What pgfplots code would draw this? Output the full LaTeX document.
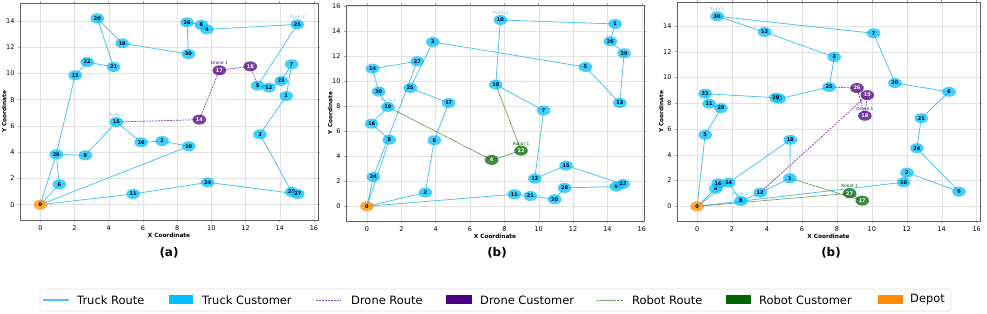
\documentclass[border=0pt]{standalone}
\usepackage{fontspec}
\setmainfont{DejaVu Sans}
\usepackage{pgfplots}
\pgfplotsset{compat=1.18}
\definecolor{troute}{RGB}{79,195,247}
\definecolor{tcust}{RGB}{0,191,255}
\definecolor{droute}{RGB}{128,70,180}
\definecolor{dcust}{RGB}{75,0,130}
\definecolor{rroute}{RGB}{100,155,80}
\definecolor{rcust}{RGB}{0,100,0}
\definecolor{depot}{RGB}{255,140,0}
\pgfdeclareplotmark{ell}{\pgfpathellipse{\pgfpointorigin}{\pgfqpoint{6.8bp}{0bp}}{\pgfqpoint{0bp}{5bp}}\pgfusepathqfill}
\pgfplotsset{
 panel/.style={scale only axis, anchor=south west, xtick={0,2,...,16},
   grid=major, grid style={gray!22, line width=0.4bp},
   axis line style={gray!75!black, line width=0.8bp},
   tick style={gray!70, line width=0.5bp}, major tick length=2bp, tick align=outside,
   ticklabel style={font=\fontsize{6.5}{7}\selectfont},
   /pgf/number format/assume math mode=true,
   xlabel={X Coordinate}, ylabel={Y Coordinate},
   label style={font=\fontsize{5.8}{6}\selectfont\bfseries},
   xlabel style={yshift=4bp}, ylabel style={yshift=-7bp},
   clip=false},
 cust/.style={only marks, mark=ell, mark options={fill=#1, fill opacity=0.75, draw=none},
   point meta=explicit symbolic, nodes near coords,
   every node near coord/.append style={anchor=center, inner sep=0pt,
     font=\fontsize{5}{5}\selectfont\bfseries, text=black, opacity=1}},
 wtext/.style={every node near coord/.append style={text=white}},
 tr/.style={troute, line width=0.8bp, no marks},
 dr/.style={droute, line width=0.7bp, no marks, dash pattern=on 2bp off 1bp},
 rr/.style={rroute, line width=0.7bp, no marks, dash pattern=on 1.2bp off 0.4bp},
}
\newcommand{\tlab}[4]{\node[font=\fontsize{4.3}{4.3}\selectfont, text=#1, inner sep=0pt] at (axis cs:#2,#3) [yshift=7bp] {#4};}
\begin{document}
\begin{tikzpicture}
\useasboundingbox (0,0) rectangle (987bp,314bp);
% ---------------- panel (a)
\begin{axis}[panel, at={(20bp,94bp)}, width=298bp, height=217bp,
  xmin=-1.19, xmax=16.24, ymin=-1.17, ymax=15.37, ytick={0,2,...,14}]
\addplot[tr] coordinates {(0,0) (1.11,1.55) (0.93,3.84) (2.63,3.76) (4.44,6.3) (5.9,4.75) (7.12,4.85) (8.68,4.45) (0,0)};
\addplot[tr] coordinates {(0,0) (0.93,3.84) (2.04,9.86) (2.74,10.87) (4.28,10.49) (3.33,14.2) (4.79,12.3) (8.66,11.48) (8.58,13.9) (9.42,13.7) (9.75,13.36) (15.03,13.74) (12.71,9.07) (13.37,8.92) (14.09,9.43) (14.7,10.7) (14.38,8.28) (12.85,5.36) (14.7,0.97) (15.06,0.81) (9.79,1.7) (5.43,0.81) (0,0)};
\addplot[dr] coordinates {(4.44,6.3) (9.3,6.48) (10.47,10.24) (12.28,10.54) (12.71,9.07)};
\addplot[cust=tcust] coordinates {(14.38,8.28)[1] (7.12,4.85)[2] (12.85,5.36)[3] (9.75,13.36)[4] (12.71,9.07)[5] (1.11,1.55)[6] (14.7,10.7)[7] (9.42,13.7)[8] (2.63,3.76)[9] (8.68,4.45)[10] (5.43,0.81)[11] (13.37,8.92)[12] (2.04,9.86)[13] (4.44,6.3)[15] (5.9,4.75)[16] (4.79,12.3)[19] (3.33,14.2)[20] (4.28,10.49)[21] (2.74,10.87)[22] (14.09,9.43)[23] (9.79,1.7)[24] (15.03,13.74)[25] (8.58,13.9)[26] (14.7,0.97)[28] (15.06,0.81)[27] (0.93,3.84)[29] (8.66,11.48)[30]};
\addplot[cust=dcust, wtext] coordinates {(9.3,6.48)[14] (10.47,10.24)[17] (12.28,10.54)[18]};
\addplot[cust=depot] coordinates {(0,0)[0]};
\tlab{troute}{4.44}{6.3}{Truck 1}
\tlab{troute}{15.03}{13.74}{Truck 2}
\tlab{dcust}{10.47}{10.24}{Drone 1}
\end{axis}
% ---------------- panel (b)
\begin{axis}[panel, at={(346bp,93bp)}, width=298bp, height=216bp,
  xmin=-1.22, xmax=16.13, ymin=-1.18, ymax=16.13, ytick={0,2,...,16}]
\addplot[tr] coordinates {(0,0) (0.37,2.35) (2.93,11.62) (0.33,11.03) (0.68,9.19) (1.22,7.96) (0.27,6.62) (1.3,5.34) (0,0)};
\addplot[tr] coordinates {(0,0) (3.4,1.1) (3.92,5.29) (4.76,8.28) (2.52,9.48) (3.84,13.17) (12.72,11.16) (14.72,8.28) (14.97,12.26) (14.17,13.22) (14.45,14.61) (7.77,14.93) (7.5,9.75) (10.29,7.67) (9.77,2.22) (11.59,3.26) (14.91,1.79) (14.52,1.58) (11.51,1.47) (10.93,0.56) (9.51,0.83) (8.58,0.96) (0,0)};
\addplot[rr] coordinates {(1.22,7.96) (7.26,3.71) (8.97,4.46) (7.5,9.75)};
\addplot[cust=tcust] coordinates {(14.45,14.61)[1] (3.4,1.1)[2] (3.84,13.17)[3] (12.72,11.16)[5] (3.92,5.29)[6] (10.29,7.67)[7] (1.3,5.34)[8] (14.52,1.58)[9] (7.77,14.93)[10] (8.58,0.96)[11] (9.77,2.22)[12] (14.72,8.28)[13] (0.33,11.03)[14] (11.59,3.26)[15] (0.27,6.62)[16] (4.76,8.28)[17] (7.5,9.75)[18] (1.22,7.96)[19] (10.93,0.56)[20] (9.51,0.83)[21] (14.91,1.79)[23] (0.37,2.35)[24] (2.52,9.48)[25] (14.17,13.22)[26] (2.93,11.62)[27] (11.51,1.47)[28] (14.97,12.26)[29] (0.68,9.19)[30]};
\addplot[cust=rcust, wtext] coordinates {(7.26,3.71)[4] (8.97,4.46)[22]};
\addplot[cust=depot] coordinates {(0,0)[0]};
\tlab{troute}{1.22}{7.96}{Truck 1}
\tlab{troute}{7.77}{14.93}{Truck 2}
\tlab{rcust}{8.97}{4.46}{Robot 1}
\end{axis}
% ---------------- panel (c)
\begin{axis}[panel, at={(677bp,93bp)}, width=303bp, height=219bp,
  xmin=-1.15, xmax=16.19, ymin=-1.14, ymax=15.86, ytick={0,2,...,14}]
\addplot[tr] coordinates {(0,0) (1.07,1.37) (1.2,1.79) (1.81,1.84) (2.5,0.41) (3.61,1.06) (5.31,2.18) (5.33,5.16) (1.81,1.84) (0,0)};
\addplot[tr] coordinates {(0,0) (0.46,5.55) (1.37,7.62) (0.69,7.96) (0.46,8.74) (4.51,8.43) (4.7,8.35) (7.56,9.26) (7.85,11.59) (3.86,13.53) (1.15,14.75) (10.1,13.43) (11.32,9.57) (14.42,8.89) (12.83,6.84) (12.58,4.51) (14.99,1.14) (12.01,2.62) (11.82,1.87) (0,0)};
\addplot[dr] coordinates {(7.56,9.26) (9.15,9.18) (9.6,7.03) (9.74,8.63) (3.61,1.06)};
\addplot[rr] coordinates {(5.31,2.18) (9.45,0.44) (8.73,1.01) (0,0)};
\addplot[cust=tcust] coordinates {(5.31,2.18)[1] (12.01,2.62)[2] (7.85,11.59)[3] (1.07,1.37)[4] (0.46,5.55)[5] (14.42,8.89)[6] (10.1,13.43)[7] (2.5,0.41)[8] (14.99,1.14)[9] (11.82,1.87)[10] (0.69,7.96)[11] (3.61,1.06)[12] (3.86,13.53)[13] (1.81,1.84)[14] (1.2,1.79)[16] (5.33,5.16)[18] (11.32,9.57)[20] (12.83,6.84)[21] (4.7,8.35)[22] (0.46,8.74)[23] (12.58,4.51)[24] (7.56,9.26)[25] (1.37,7.62)[28] (4.51,8.43)[29] (1.15,14.75)[30]};
\addplot[cust=dcust, wtext] coordinates {(9.15,9.18)[26] (9.74,8.63)[15] (9.6,7.03)[19]};
\addplot[cust=rcust, wtext] coordinates {(8.73,1.01)[27] (9.45,0.44)[17]};
\addplot[cust=depot] coordinates {(0,0)[0]};
\tlab{troute}{2.45}{0.41}{Truck 1}
\tlab{troute}{1.15}{14.75}{Truck 2}
\tlab{dcust}{9.6}{7.03}{Drone 1}
\tlab{rcust}{8.73}{1.01}{Robot 1}
\end{axis}
% ---------------- captions
\node[font=\fontsize{12}{12}\selectfont\bfseries] at (169bp,61bp) {(a)};
\node[font=\fontsize{12}{12}\selectfont\bfseries] at (497bp,61bp) {(b)};
\node[font=\fontsize{12}{12}\selectfont\bfseries] at (831bp,61bp) {(b)};
% ---------------- legend
\draw[gray!25, line width=0.6bp, rounded corners=2bp, fill=white] (40bp,3bp) rectangle (951bp,25bp);
\begin{scope}[every node/.style={anchor=west, inner sep=0pt, font=\fontsize{11.5}{12}\selectfont}]
\draw[troute, line width=1.5bp] (43bp,14bp) -- (69bp,14bp);
\node at (77bp,14bp) {Truck Route};
\fill[tcust] (169bp,10bp) rectangle (193bp,18.5bp);
\node at (202bp,14bp) {Truck Customer};
\draw[droute, line width=0.9bp, dash pattern=on 2bp off 1bp] (316bp,14bp) -- (341bp,14bp);
\node at (351bp,14bp) {Drone Route};
\fill[dcust] (446bp,10bp) rectangle (472bp,18.5bp);
\node at (480bp,14bp) {Drone Customer};
\draw[rroute, line width=0.9bp, dash pattern=on 0.8bp off 0.6bp] (597bp,14bp) -- (623bp,14bp);
\node at (632bp,14bp) {Robot Route};
\fill[rcust] (726bp,10bp) rectangle (751bp,18.5bp);
\node at (759bp,14bp) {Robot Customer};
\fill[depot] (878bp,10bp) rectangle (903bp,18.5bp);
\node at (910bp,14bp) {Depot};
\end{scope}
\end{tikzpicture}
\end{document}
